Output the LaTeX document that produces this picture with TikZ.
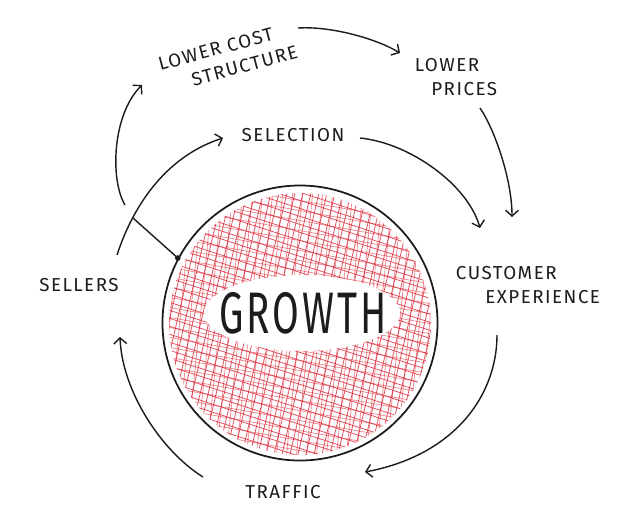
\documentclass[tikz,border=0pt]{standalone}
\usepackage{fontspec}
\setmainfont{Fira Sans}[LetterSpace=8]
\usepackage{tikz}
\usetikzlibrary{arrows.meta,positioning,calc,shapes}

\definecolor{pen}{HTML}{1C1C1C}
\definecolor{hatch}{HTML}{E0303F}

\begin{document}
\begin{tikzpicture}[x=0.03cm,y=-0.03cm,
	lbl/.style={font=\fontsize{16}{20}\selectfont, text=pen, inner sep=0pt, align=left},
	arr/.style={draw=pen, line width=1.2pt, -{Straight Barb[length=5pt,width=11pt]}},
	hline/.style={hatch, line width=0.65pt, opacity=0.85}]
	\fill[white] (0,0) rectangle (640,520);
	\useasboundingbox (0,0) rectangle (640,520);
	\begin{scope}[even odd rule]
		\clip (300,324) circle (131) (302,313) ellipse (98 and 38);
		\foreach \y in {40,48,...,520} \draw[hline] (150,\y) -- (460,\y+100);
		\foreach \x in {170,178,...,540} \draw[hline] (\x,180) -- (\x-70,480);
		\foreach \y in {44,54,...,520} \draw[hline, opacity=0.55] (150,\y) -- (460,\y+55);
		\foreach \x in {174,184,...,540} \draw[hline, opacity=0.55] (\x,180) -- (\x-30,480);
	\end{scope}
	\node[circle, draw=pen, line width=1.5pt, minimum size=8.25cm, inner sep=0pt] (core) at (300,323) {};
	\node[font=\fontsize{50}{50}\selectfont, xscale=0.66, text=pen] (growth) at (303,313) {GROWTH};
	\node[lbl, rotate=15] (cost) at (228,58) {LOWER COST\\\hspace*{24pt}STRUCTURE};
	\node[lbl] (prices) at (456,77) {LOWER\\\hspace*{14pt}PRICES};
	\node[lbl] (selection) at (293,135) {SELECTION};
	\node[lbl] (customer) at (528,285) {CUSTOMER\\\hspace*{25pt}EXPERIENCE};
	\node[lbl] (sellers) at (79,285) {SELLERS};
	\node[lbl] (traffic) at (283,492) {TRAFFIC};
	\coordinate (costR) at (298,28);
	\coordinate (pricesL) at (400,53);
	\coordinate (pricesB) at (480,108);
	\coordinate (custT) at (512,217);
	\coordinate (selR) at (360,138);
	\coordinate (custL) at (480,228);
	\coordinate (custB) at (497,335);
	\coordinate (trafR) at (365,472);
	\coordinate (trafL) at (203,477);
	\coordinate (sellB) at (120,337);
	\coordinate (sellA) at (125,205);
	\coordinate (costL) at (142,85);
	\coordinate (sellC) at (117,255);
	\coordinate (selL) at (223,138);
	\coordinate (link) at (133,218);
	\draw[arr] (costR) .. controls (330,26) and (375,38) .. (pricesL);
	\draw[arr] (pricesB) .. controls (495,130) and (512,180) .. (custT);
	\draw[arr] (selR) .. controls (410,143) and (468,185) .. (custL);
	\draw[arr] (custB) .. controls (497,395) and (455,455) .. (trafR);
	\draw[arr] (trafL) .. controls (160,450) and (122,390) .. (sellB);
	\draw[arr] (sellA) .. controls (110,180) and (112,115) .. (costL);
	\draw[arr] (sellC) .. controls (135,200) and (170,155) .. (selL);
	\draw[pen, line width=1.2pt] (link) -- (core.152);
	\fill[pen] (core.152) circle (2.4pt);
\end{tikzpicture}
\end{document}
